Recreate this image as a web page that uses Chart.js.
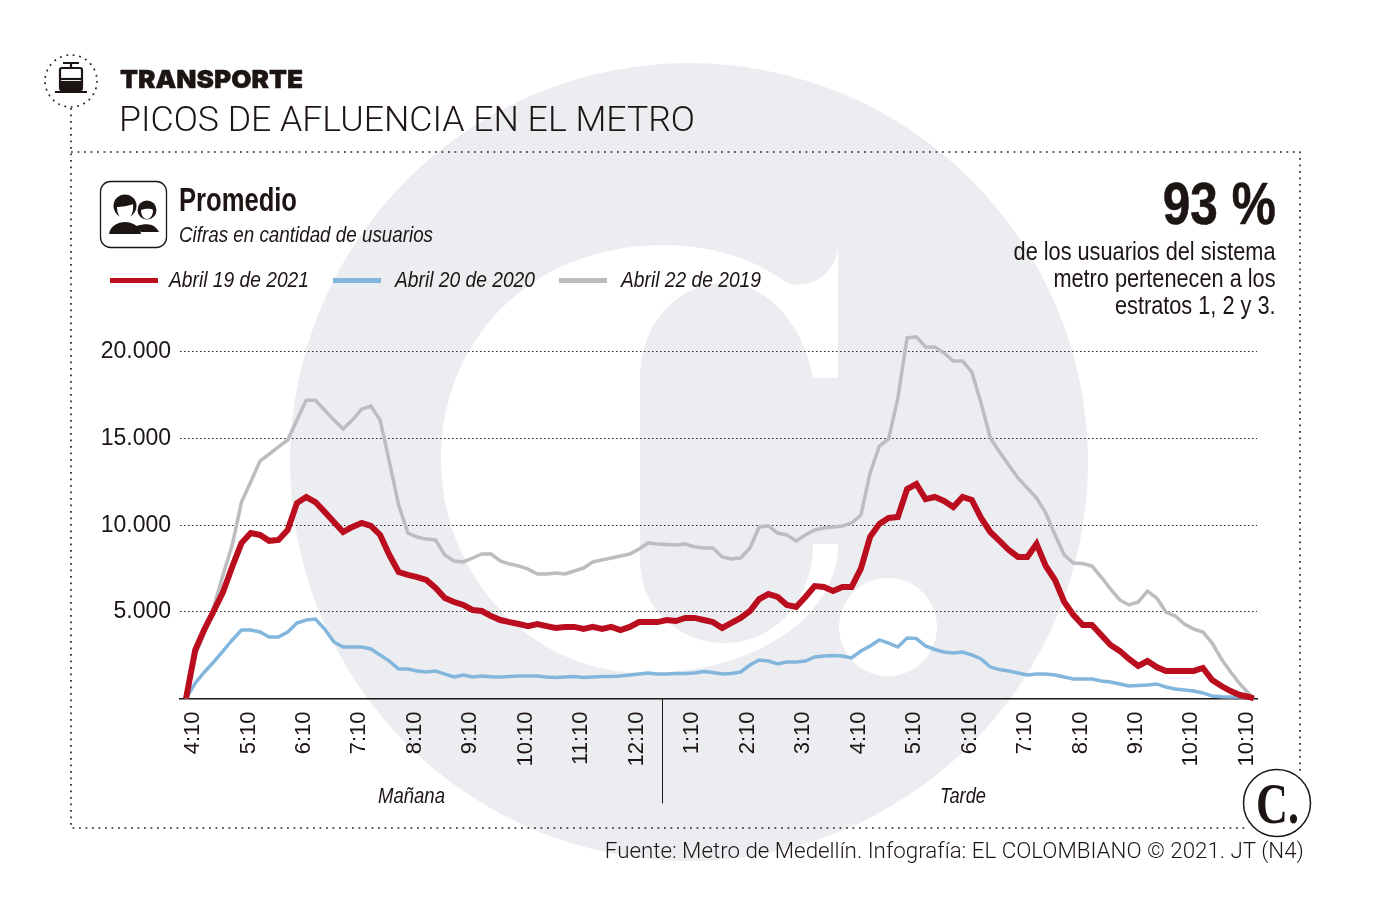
<!DOCTYPE html>
<html lang="es">
<head>
<meta charset="utf-8">
<title>Picos de afluencia en el metro</title>
<script src="https://cdn.jsdelivr.net/npm/chart.js@4"></script>
<style>
  html, body { margin: 0; padding: 0; background: #fff; }
  #page { position: relative; width: 1379px; height: 922px; overflow: hidden; color: #1d1513; }
  #page svg, #page canvas { position: absolute; left: 0; top: 0; }
  .t { position: absolute; white-space: nowrap; line-height: 1; font-family: "Liberation Sans", sans-serif; transform-origin: left center; }
  .r { text-align: right; transform-origin: right center; }
  .i { font-style: italic; }
  .b { font-weight: bold; }
</style>
</head>
<body>
<div id="page">
  <svg width="1379" height="922">
    <!-- logo de fondo -->
    <circle cx="689" cy="462" r="399" fill="#ecedf1"/>
    <path fill="#fff" d="M838 248 V378 H813 C805 330 770 283 725 283 C680 283 640 320 640 380 V560 C640 610 680 643 725 643 C775 643 813 600 813 544 H838 C838 620 750 673 645 673 C530 673 441 575 441 459 C441 340 530 245 665 245 C715 245 760 262 787 283 C810 290 835 275 838 248 Z"/>
    <circle cx="888" cy="627" r="49" fill="#fff"/>
    <!-- marco punteado -->
    <g fill="none" stroke="#2a2523" stroke-width="1.7" stroke-dasharray="1.8 4.7">
      <path d="M71 108 V828 H1246"/>
      <path d="M71 152 H1300 V772"/>
      <circle cx="71" cy="81" r="26"/>
    </g>
    <!-- tranvia -->
    <g fill="none" stroke="#1d1513" stroke-width="2.2">
      <path d="M63 63 H79 M71 63 V68"/>
      <rect x="60" y="68" width="22" height="22" rx="2"/>
      <path d="M60 79 H82"/>
    </g>
    <path fill="#1d1513" d="M60 81 H82 V90 H60 Z M55 91 H87 V93 H55 Z"/>
    <!-- usuarios -->
    <rect x="100.5" y="181.5" width="66" height="66" rx="10" fill="#fff" stroke="#1d1513" stroke-width="1.3"/>
    <g fill="#1d1513">
      <path d="M136 226 C150 222 155 225 159 232 H141 Z"/>
      <circle cx="147" cy="210" r="9.5"/>
      <path d="M109 234 C110 226 118 222 125 222 C132 222 140 226 141 234 Z"/>
      <circle cx="125" cy="206" r="11.5"/>
    </g>
    <path fill="#fff" d="M117 207 C121 207 129 206 133 204 C134 214 130 219 125 219 C120 219 117 214 117 207 Z M141 210 C145 209 150 208 153 210 C153 216 150 219 147 219 C144 219 141 216 141 210 Z"/>
    <!-- sello -->
    <circle cx="1277" cy="803" r="33.5" fill="#fff" stroke="#1d1513" stroke-width="1.5"/>
  </svg>
  <canvas id="grafico" width="1379" height="922"></canvas>

  <div class="t" data-w="183" style="left:120px;top:67px;font-family:Inter,'Liberation Sans',sans-serif;font-weight:900;font-size:25px;-webkit-text-stroke:0.4px #1d1513;">TRANSPORTE</div>
  <div class="t" data-w="576" style="left:119px;top:102px;font-family:Roboto,sans-serif;font-weight:300;font-size:35px;">PICOS DE AFLUENCIA EN EL METRO</div>
  <div class="t b" data-w="118" style="left:179px;top:183px;font-size:33px;">Promedio</div>
  <div class="t i" data-w="254" style="left:179px;top:224px;font-size:22px;">Cifras en cantidad de usuarios</div>
  <div id="leyenda"></div>
  <div class="t b r" data-w="113" style="right:103px;top:174px;font-size:60px;-webkit-text-stroke:0.6px #1d1513;">93 %</div>
  <div class="t r" data-w="262" style="right:103px;top:238px;font-size:25px;line-height:27px;">de los usuarios del sistema<br>metro pertenecen a los<br>estratos 1, 2 y 3.</div>
  <div class="t i" data-w="67" style="left:378px;top:785px;font-size:22px;">Mañana</div>
  <div class="t i" data-w="46" style="left:940px;top:785px;font-size:22px;">Tarde</div>
  <div class="t" data-w="43" style="left:1256px;top:775px;font-family:'Liberation Serif',serif;font-weight:bold;font-size:57px;">C.</div>
  <div class="t r" data-w="699" style="right:75px;top:840px;font-family:Roboto,sans-serif;font-weight:300;font-size:22px;">Fuente: Metro de Medellín. Infografía: EL COLOMBIANO © 2021. JT (N4)</div>
</div>

<script>
const etiquetasX = ['4:10', '5:10', '6:10', '7:10', '8:10', '9:10', '10:10', '11:10', '12:10', '1:10', '2:10', '3:10', '4:10', '5:10', '6:10', '7:10', '8:10', '9:10', '10:10', '10:10'];
const etiquetasY = ['', '5.000', '10.000', '15.000', '20.000'];
const nombres = ['Abril 19 de 2021', 'Abril 20 de 2020', 'Abril 22 de 2019'];

// usuarios cada 10 minutos
const abril2021 = [0, 2800, 4010, 5050, 6150, 7600, 8970, 9550, 9440, 9100, 9150, 9730, 11280, 11630, 11340, 10770, 10190, 9610, 9900, 10130,
  9960, 9440, 8280, 7300, 7130, 7010, 6840, 6380, 5800, 5570, 5400, 5110, 5050, 4760, 4530, 4410, 4300, 4180, 4300, 4180,
  4070, 4130, 4130, 4010, 4130, 4010, 4130, 3950, 4130, 4410, 4410, 4410, 4530, 4470, 4650, 4650, 4530, 4410, 4070, 4360,
  4650, 5050, 5740, 6030, 5860, 5400, 5280, 5860, 6490, 6440, 6200, 6440, 6440, 7490, 9330, 10080, 10420, 10480, 12090, 12380,
  11510, 11630, 11400, 11050, 11630, 11460, 10420, 9610, 9100, 8570, 8170, 8170, 8920, 7650, 6840, 5570, 4820, 4240, 4240, 3660,
  3090, 2750, 2280, 1880, 2160, 1820, 1590, 1590, 1590, 1590, 1760, 1070, 720, 430, 200, 90, 0];
const abril2020 = [0, 890, 1530, 2110, 2740, 3380, 3950, 3950, 3840, 3550, 3550, 3840, 4360, 4530, 4590, 4010, 3260, 2970, 2970, 2970,
  2860, 2510, 2160, 1700, 1700, 1590, 1530, 1590, 1410, 1240, 1360, 1240, 1300, 1260, 1240, 1270, 1300, 1300, 1300, 1240,
  1210, 1240, 1270, 1210, 1240, 1270, 1270, 1300, 1360, 1410, 1470, 1410, 1410, 1440, 1440, 1470, 1560, 1500, 1410, 1440,
  1530, 1930, 2220, 2160, 1990, 2110, 2110, 2160, 2400, 2450, 2480, 2450, 2340, 2740, 3030, 3380, 3200, 2970, 3490, 3460,
  3030, 2830, 2680, 2630, 2680, 2510, 2280, 1820, 1670, 1590, 1470, 1360, 1410, 1410, 1360, 1240, 1130, 1130, 1130, 1010,
  950, 840, 720, 750, 780, 840, 660, 550, 490, 430, 320, 140, 100, 80, 80, 50, 0];
const abril2019 = [0, 2500, 3800, 5300, 7130, 8860, 11340, 12490, 13700, 14110, 14520, 14920, 16070, 17220, 17220, 16640, 16070, 15560, 16070, 16700,
  16880, 16070, 13650, 11170, 9550, 9320, 9200, 9150, 8280, 7940, 7880, 8110, 8340, 8340, 7940, 7760, 7650, 7470, 7190, 7190,
  7240, 7190, 7360, 7530, 7880, 8000, 8110, 8220, 8340, 8630, 8980, 8920, 8890, 8860, 8920, 8750, 8690, 8690, 8170, 8050,
  8110, 8690, 9900, 9960, 9550, 9440, 9090, 9440, 9730, 9840, 9900, 9960, 10130, 10590, 13020, 14570, 14980, 17340, 20810, 20870,
  20290, 20290, 19940, 19480, 19480, 18850, 17060, 15040, 14230, 13480, 12730, 12150, 11570, 10710, 9450, 8280, 7820, 7790, 7650, 7010,
  6320, 5690, 5400, 5570, 6200, 5800, 4990, 4760, 4300, 4010, 3840, 3200, 2280, 1530, 840, 260, 0];

const minutos = abril2021.map((_, i) => Math.min(i * 10, 1155));
const puntos = serie => serie.map((v, i) => ({ x: minutos[i], y: v }));

const colores = ['#ba0e1e', '#82b6dd', '#bcbcc1'];

// leyenda
const posLeyenda = [110, 333, 559];
document.getElementById('leyenda').innerHTML = nombres.map((n, i) =>
  `<div style="position:absolute;left:${posLeyenda[i]}px;top:278px;width:48px;height:5px;background:${colores[i]}"></div>` +
  `<div class="t i" data-w="140" style="left:${posLeyenda[i] + 59 + (i ? 3 : 0)}px;top:269px;font-size:22px;">${n}</div>`
).join('');

// las fuentes estrechas no estan instaladas: se ajusta el ancho de cada texto
document.querySelectorAll('[data-w]').forEach(el => {
  el.style.transform = `scaleX(${el.dataset.w / el.getBoundingClientRect().width})`;
});

// linea que separa manana y tarde
const separador = {
  id: 'separador',
  afterDraw(chart) {
    const { ctx, scales: { x, y } } = chart;
    const px = Math.round(x.getPixelForValue(515)) + 0.5;
    ctx.save();
    ctx.strokeStyle = '#1d1513';
    ctx.lineWidth = 1;
    ctx.beginPath();
    ctx.moveTo(px, y.bottom);
    ctx.lineTo(px, y.bottom + 105);
    ctx.stroke();
    ctx.restore();
  }
};

new Chart(document.getElementById('grafico').getContext('2d'), {
  type: 'line',
  data: {
    datasets: [
      { label: nombres[2], data: puntos(abril2019), borderColor: colores[2], borderWidth: 3.5, order: 3 },
      { label: nombres[1], data: puntos(abril2020), borderColor: colores[1], borderWidth: 3.5, order: 2 },
      { label: nombres[0], data: puntos(abril2021), borderColor: colores[0], borderWidth: 6, order: 1 }
    ]
  },
  options: {
    responsive: false,
    animation: false,
    clip: false,
    layout: { padding: { top: 334.67, right: 122, bottom: 0, left: 0 } },
    elements: {
      point: { radius: 0 },
      line: { tension: 0, borderJoinStyle: 'miter' }
    },
    plugins: { legend: { display: false }, tooltip: { enabled: false } },
    scales: {
      x: {
        type: 'linear',
        min: -6.5,
        max: 1158.5,
        afterFit(s) { s.height = 223.5; },
        afterBuildTicks(s) { s.ticks = etiquetasX.map((_, i) => ({ value: i * 60 })); },
        grid: { display: false },
        border: { color: '#1d1513', width: 1.5 },
        ticks: {
          autoSkip: false,
          minRotation: 90,
          maxRotation: 90,
          padding: 5,
          labelOffset: 7,
          color: '#1d1513',
          font: { family: '"Liberation Sans", sans-serif', size: 22 },
          callback: (v, i) => etiquetasX[i]
        }
      },
      y: {
        min: 0,
        max: 21000,
        afterFit(s) { s.width = 180; },
        afterBuildTicks(s) { s.ticks = etiquetasY.map((_, i) => ({ value: i * 5000 })); },
        grid: { color: '#2a2523', lineWidth: 1, drawTicks: false },
        border: { display: false, dash: [1.5, 2.5] },
        ticks: {
          autoSkip: false,
          padding: 9,
          color: '#1d1513',
          font: { family: '"Liberation Sans", sans-serif', size: 23 },
          callback: (v, i) => etiquetasY[i]
        }
      }
    }
  },
  plugins: [separador]
});
</script>
</body>
</html>
